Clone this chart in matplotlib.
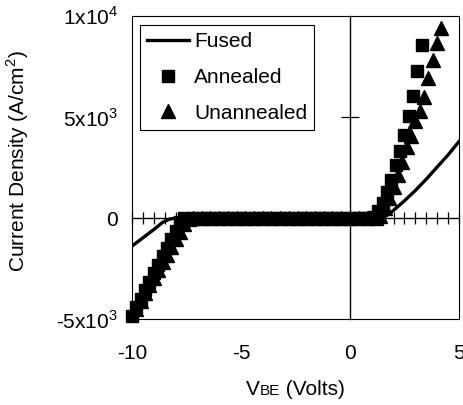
import matplotlib
matplotlib.use("Agg")
import matplotlib.pyplot as plt
from matplotlib.offsetbox import TextArea, HPacker, AnnotationBbox

plt.rcParams['font.family'] = ['Liberation Sans', 'DejaVu Sans']
plt.rcParams['mathtext.fontset'] = 'custom'
plt.rcParams['mathtext.rm'] = 'Liberation Sans'

# Fused junction (solid line)
fused_v = [-10.0, -9.5, -9.0, -8.6, -8.3, -8.0, 1.5, 1.8, 2.0, 2.5, 3.0, 3.5, 4.0, 4.5, 5.0]
fused_j = [-1390, -980, -570, -220, -60, 0, 0, 200, 380, 850, 1360, 1920, 2520, 3120, 3780]

# Annealed (squares)
annealed_v = [-10.0, -9.8, -9.6, -9.4, -9.2, -9.0, -8.8, -8.6, -8.4, -8.2, -8.0, -7.8,
              -7.6, -7.2, -6.8, -6.4, -6.0, -5.6, -5.2, -4.8, -4.4, -4.0, -3.6, -3.2,
              -2.8, -2.4, -2.0, -1.6, -1.2, -0.8, -0.4, 0.0, 0.4, 0.8, 1.1,
              1.3, 1.5, 1.7, 1.9, 2.1, 2.3, 2.5, 2.7, 2.9, 3.1, 3.3]
annealed_j = [-4830, -4410, -3990, -3570, -3150, -2730, -2310, -1890, -1470, -1050, -630, -210,
              0, 0, 0, 0, 0, 0, 0, 0, 0, 0, 0, 0,
              0, 0, 0, 0, 0, 0, 0, 0, 0, 0, 60,
              340, 740, 1270, 1880, 2610, 3300, 4120, 5050, 6030, 7270, 8580]

# Unannealed (triangles)
unannealed_v = [-9.8, -9.6, -9.4, -9.2, -9.0, -8.8, -8.6, -8.4, -8.2, -8.0, -7.8, -7.6, -7.4,
                -7.2, -6.8, -6.4, -6.0, -5.6, -5.2, -4.8, -4.4, -4.0, -3.6, -3.2, -2.8,
                -2.4, -2.0, -1.6, -1.2, -0.8, -0.4, 0.0, 0.4, 0.8, 1.2, 1.4,
                1.6, 1.8, 2.0, 2.2, 2.4, 2.6, 2.8, 3.0, 3.2, 3.4, 3.6, 3.8, 4.0, 4.2]
unannealed_j = [-4480, -4100, -3720, -3340, -2960, -2580, -2200, -1820, -1440, -1060, -680, -300, -40,
                0, 0, 0, 0, 0, 0, 0, 0, 0, 0, 0, 0,
                0, 0, 0, 0, 0, 0, 0, 0, 0, 0, 100,
                490, 980, 1550, 2120, 2780, 3510, 4080, 4820, 5310, 5980, 6910, 7840, 8660, 9400]

xticks = [-10, -5, 0, 5]
xtick_labels = ['-10', '-5', '0', '5']
yticks = [-5000, 0, 5000, 10000]
ytick_labels = [r'-5x10$^{3}$', '0', r'5x10$^{3}$', r'1x10$^{4}$']

fig = plt.figure(figsize=(4.64, 4.05), dpi=100)
ax = fig.add_axes([0.2845, 0.2123, 0.7045, 0.7482])

ax.set_xlim(-10, 5)
ax.set_ylim(-5000, 10000)

# zero lines with crossing ticks
zx = ax.secondary_xaxis(5000 / 15000)
zx.set_xticks([-10 + 0.5 * i for i in range(31)])
zx.tick_params(direction='inout', length=9, width=0.9, labelbottom=False, labeltop=False)
zx.spines['bottom'].set_linewidth(1.0)
zx.spines['top'].set_linewidth(1.0)

zy = ax.secondary_yaxis(10 / 15)
zy.set_yticks([5000])
zy.tick_params(direction='inout', length=13, width=0.9, labelleft=False, labelright=False)
zy.spines['left'].set_linewidth(1.0)
zy.spines['right'].set_linewidth(1.0)

sq, = ax.plot(annealed_v, annealed_j, 's', color='black', markersize=9, clip_on=False,
              label='Annealed')
tr, = ax.plot(unannealed_v, unannealed_j, '^', color='black', markersize=10, clip_on=False,
              label='Unannealed')
ln, = ax.plot(fused_v, fused_j, '-', color='black', linewidth=2.4, label='Fused')

ax.set_xticks(xticks)
ax.set_xticklabels(xtick_labels)
ax.set_yticks(yticks)
ax.set_yticklabels(ytick_labels)
ax.tick_params(axis='x', length=0, pad=18, labelsize=15)
ax.tick_params(axis='y', length=0, pad=10, labelsize=15)
for s in ax.spines.values():
    s.set_linewidth(0.8)
    s.set_color('black')

ax.set_ylabel('Current Density (A/cm$^{2}$)', fontsize=15)
ax.yaxis.set_label_coords(-0.31, 0.52)

# x label with small-caps style "BE"
parts = [TextArea('V', textprops=dict(fontsize=15)),
         TextArea('BE', textprops=dict(fontsize=11)),
         TextArea(' (Volts)', textprops=dict(fontsize=15))]
box = HPacker(children=parts, align='baseline', pad=0, sep=0)
ab = AnnotationBbox(box, (0.5, -0.232), xycoords='axes fraction', frameon=False,
                    box_alignment=(0.5, 0.5))
ax.add_artist(ab)

leg = ax.legend(handles=[ln, sq, tr], loc='upper left', bbox_to_anchor=(0.024, 0.97),
                borderaxespad=0, fontsize=15, frameon=True, fancybox=False,
                edgecolor='black', framealpha=1, handlelength=2.0, handletextpad=0.25,
                labelspacing=0.8, borderpad=0.35, numpoints=1)
leg.get_frame().set_linewidth(0.8)

fig.savefig('out.png', dpi=100)
